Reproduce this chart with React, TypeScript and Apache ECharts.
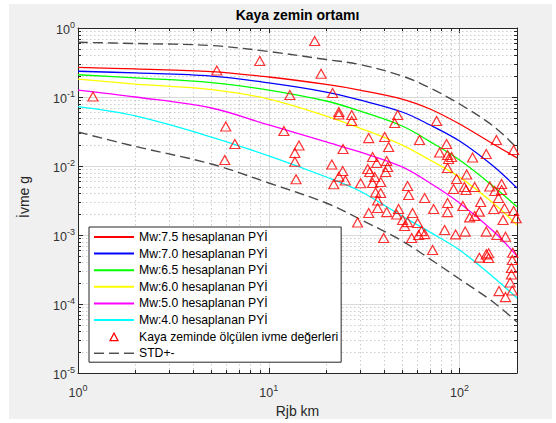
import React, { useEffect, useRef } from 'react';
import * as echarts from 'echarts';

// ---------- data ----------
const distances = [1, 2, 5, 10, 20, 30, 50, 70, 100, 150, 200];
const mw75 = [0.268, 0.255, 0.234, 0.195, 0.152, 0.126, 0.0935, 0.067, 0.0406, 0.0208, 0.0131];
const mw70 = [0.236, 0.223, 0.201, 0.16, 0.118, 0.0905, 0.0606, 0.0393, 0.023, 0.01, 0.0048];
const mw65 = [0.21, 0.189, 0.162, 0.126, 0.0875, 0.0627, 0.038, 0.0226, 0.0122, 0.0051, 0.00257];
const mw60 = [0.181, 0.154, 0.128, 0.0935, 0.053, 0.0355, 0.0201, 0.0122, 0.0069, 0.0029, 0.0014];
const mw50 = [0.126, 0.1, 0.0693, 0.0393, 0.0223, 0.016, 0.0097, 0.00567, 0.00291, 0.00114, 0.000496];
const mw40 = [0.0723, 0.0531, 0.0263, 0.014, 0.00693, 0.00434, 0.00188, 0.0011, 0.000606, 0.000246, 0.000122];
const stdUpper = [0.621, 0.596, 0.557, 0.456, 0.349, 0.296, 0.2016, 0.135, 0.0792, 0.038, 0.0182];
const stdLower = [0.0311, 0.0192, 0.0107, 0.00567, 0.00291, 0.0017, 0.00082, 0.000449, 0.00023, 0.000107, 0.0000548];

const obsDistance = [
  1.198, 5.34, 8.97, 5.95, 17.4, 18.8, 12.9, 21.6, 23.3, 23.3,
  27.2, 27.2, 47.4, 45.7, 75.8, 156, 192, 12.0, 33.4, 40.5,
  61.7, 42.5, 85.5, 78.6, 86.5, 90.8, 87.6, 86.5, 117, 138,
  109, 96.5, 106, 108, 93.0, 120, 144, 153, 166, 166,
  160, 129, 104, 86.5, 86.5, 73.1, 65.6, 54.1, 53.4, 47.9,
  56.7, 46.8, 50.3, 53.4, 51.5, 60.3, 63.2, 65.6, 61.0, 56.1,
  72.2, 40.0, 29.2, 33.4, 36.3, 38.6, 37.2, 37.2, 41.5, 35.0,
  36.8, 41.5, 42.0, 33.0, 33.8, 41.0, 35.9, 35.0, 38.6, 6.64,
  5.88, 14.4, 13.7, 13.7, 13.9, 21.4, 24.4, 23.3, 25.2, 21.9,
  30.3, 24.5, 83.5, 95.3, 107, 138, 157, 174, 127, 138,
  142, 142, 190, 189, 187, 187, 184, 189, 161, 174,
  113, 127, 151, 172, 198, 169, 192, 120,
];
const obsPga = [
  0.1017, 0.242, 0.332, 0.0374, 0.648, 0.2176, 0.1069, 0.1143, 0.0606, 0.0558,
  0.0548, 0.0449, 0.0548, 0.042, 0.0449, 0.0238, 0.01706, 0.0322, 0.0254, 0.0263,
  0.0238, 0.01886, 0.02084, 0.01569, 0.01443, 0.0135, 0.01263, 0.00935, 0.01328, 0.01492,
  0.00753, 0.00648, 0.00496, 0.00449, 0.00464, 0.00496, 0.00505, 0.00434, 0.00548, 0.00449,
  0.00344, 0.00301, 0.00263, 0.00291, 0.00215, 0.00238, 0.00344, 0.0038, 0.00513, 0.00238,
  0.00208, 0.00198, 0.00165, 0.00154, 0.00135, 0.00149, 0.00114, 0.00103, 0.001, 0.000905,
  0.000606, 0.000905, 0.00152, 0.00208, 0.00413, 0.00406, 0.00316, 0.00246, 0.00215, 0.0135,
  0.01105, 0.01182, 0.00967, 0.00905, 0.00818, 0.00818, 0.00693, 0.00567, 0.00586, 0.02084,
  0.01222, 0.01982, 0.01543, 0.01154, 0.00642, 0.01051, 0.00846, 0.007, 0.00616, 0.00543,
  0.00562, 0.01764, 0.00118, 0.00102, 0.00112, 0.00112, 0.001, 0.000945, 0.000469, 0.000525,
  0.000543, 0.000464, 0.000554, 0.000434, 0.000332, 0.000268, 0.000205, 0.000157, 0.000154, 0.000126,
  0.0018, 0.00218, 0.00238, 0.00244, 0.00175, 0.00165, 0.00223, 0.00189,
];

const seriesNames = [
  'Mw:7.5 hesaplanan PYİ',
  'Mw:7.0 hesaplanan PYİ',
  'Mw:6.5 hesaplanan PYİ',
  'Mw:6.0 hesaplanan PYİ',
  'Mw:5.0 hesaplanan PYİ',
  'Mw:4.0 hesaplanan PYİ',
];
const obsName = 'Kaya zeminde ölçülen ivme değerleri';
const stdName = 'STD+-';
const titleText = 'Kaya zemin ortamı';
const xLabelText = 'Rjb km';
const yLabelText = 'İvme g';

// minor grid positions (log axes)
const minorMantissas = [2, 3, 4, 5, 6, 7, 8, 9];
const xMinorDecades = [1, 10];
const yMinorDecades = [1e-5, 1e-4, 1e-3, 1e-2, 1e-1];

const FONT = '"Liberation Sans", Arial, Helvetica, sans-serif';
const AXIS = '#262626';
// a small triangle centred in the 40x8 legend icon box
const LEGEND_TRIANGLE = 'path://M0,0 M40,8 M16,8 L20,0.5 L24,8 Z';

function powLabel(v: number) {
  const l = Math.log10(v);
  const e = Math.round(l);
  if (Math.abs(l - e) > 1e-6) return '';
  return `{b|10}{s|${e}}`;
}

const rich = {
  b: { fontSize: 12.5, color: '#333', fontFamily: FONT, padding: [4, 0, 0, 0] },
  s: { fontSize: 9, color: '#333', fontFamily: FONT, padding: [0, 0, 6, 0] },
};

export default function App() {
  const ref = useRef<HTMLDivElement>(null);
  useEffect(() => {
    document.body.style.margin = '0';
    if (!ref.current) return;
    const chart = echarts.init(ref.current, undefined, { renderer: 'svg' });

    const colors = ['#ff0000', '#0000ff', '#00ff00', '#ffff00', '#ff00ff', '#00ffff'];
    const curves = [mw75, mw70, mw65, mw60, mw50, mw40];

    const minorData: number[][] = [];
    xMinorDecades.forEach((d) => minorMantissas.forEach((m) => minorData.push([m * d, 0.01, 0])));
    yMinorDecades.forEach((d) => minorData.push(...minorMantissas.map((m) => [10, m * d, 1])));

    const lineSeries = curves.map((c, i) => ({
      type: 'line',
      name: seriesNames[i],
      data: distances.map((d, k) => [d, c[k]]),
      symbol: 'none',
      showSymbol: false,
      smooth: 0.35,
      lineStyle: { color: colors[i], width: 1.3 },
      itemStyle: { color: colors[i] },
      silent: true,
      z: 3,
    }));

    const option: any = {
      animation: false,
      backgroundColor: '#f0f0f0',
      textStyle: { fontFamily: FONT },
      grid: {
        left: 69,
        top: 24,
        width: 439,
        height: 345,
        show: true,
        backgroundColor: '#ffffff',
        borderWidth: 0,
        containLabel: false,
        outerBoundsMode: 'none',
      },
      legend: {
        orient: 'vertical',
        left: 80,
        top: 223,
        itemWidth: 40,
        itemHeight: 8,
        itemGap: 2.6,
        padding: [3, 3, 2, 4],
        backgroundColor: '#ffffff',
        borderColor: AXIS,
        borderWidth: 1,
        borderRadius: 0,
        selectedMode: false,
        itemStyle: { opacity: 0 },
        textStyle: { fontSize: 12.2, color: '#000', fontFamily: FONT, lineHeight: 14 },
        data: [
          ...seriesNames.map((n) => ({ name: n })),
          { name: obsName, icon: LEGEND_TRIANGLE, itemStyle: { opacity: 1, color: 'transparent', borderColor: '#ff0000', borderWidth: 1.2 } },
          { name: stdName, lineStyle: { color: '#000', width: 1 } },
        ],
      },
      xAxis: [
        {
          type: 'log',
          logBase: 10,
          min: 1,
          max: 200,
          position: 'bottom',
          axisLine: { show: true, lineStyle: { color: AXIS, width: 1 } },
          axisTick: { show: true, inside: true, length: 5, lineStyle: { color: AXIS, width: 1 } },
          axisLabel: { show: true, formatter: powLabel, rich, margin: 9, showMinLabel: true, showMaxLabel: true },
          splitLine: { show: true, lineStyle: { color: '#dadada', width: 1 } },
          minorTick: { show: false },
        },
        {
          type: 'log',
          logBase: 10,
          min: 1,
          max: 200,
          position: 'top',
          axisLine: { show: true, lineStyle: { color: AXIS, width: 1 } },
          axisTick: { show: true, inside: true, length: 5, lineStyle: { color: AXIS, width: 1 } },
          axisLabel: { show: false },
          splitLine: { show: false },
        },
      ],
      yAxis: [
        {
          type: 'log',
          logBase: 10,
          min: 1e-5,
          max: 1,
          position: 'left',
          axisLine: { show: true, lineStyle: { color: AXIS, width: 1 } },
          axisTick: { show: true, inside: true, length: 5, lineStyle: { color: AXIS, width: 1 } },
          axisLabel: { show: true, formatter: powLabel, rich, margin: 3, showMinLabel: true, showMaxLabel: true },
          splitLine: { show: true, lineStyle: { color: '#dadada', width: 1 } },
        },
        {
          type: 'log',
          logBase: 10,
          min: 1e-5,
          max: 1,
          position: 'right',
          axisLine: { show: true, lineStyle: { color: AXIS, width: 1 } },
          axisTick: { show: true, inside: true, length: 5, lineStyle: { color: AXIS, width: 1 } },
          axisLabel: { show: false },
          splitLine: { show: false },
        },
      ],
      graphic: [
        {
          type: 'text',
          x: 288.5,
          y: 11,
          silent: true,
          style: { text: titleText, font: `bold 14px ${FONT}`, fill: '#000', textAlign: 'center', textVerticalAlign: 'middle' },
        },
        {
          type: 'text',
          x: 288.5,
          y: 406.5,
          silent: true,
          style: { text: xLabelText, font: `14px ${FONT}`, fill: '#262626', textAlign: 'center', textVerticalAlign: 'middle' },
        },
        {
          type: 'text',
          x: 15,
          y: 193,
          rotation: Math.PI / 2,
          silent: true,
          style: { text: yLabelText, font: `14px ${FONT}`, fill: '#262626', textAlign: 'center', textVerticalAlign: 'middle' },
        },
      ],
      series: [
        {
          type: 'custom',
          silent: true,
          z: 1,
          clip: false,
          data: minorData,
          renderItem: (params: any, api: any) => {
            const cs = params.coordSys;
            const kind = api.value(2);
            const children: any[] = [];
            if (kind === 0) {
              const x = Math.round(api.coord([api.value(0), api.value(1)])[0]) + 0.5;
              children.push({ type: 'line', shape: { x1: x, y1: cs.y, x2: x, y2: cs.y + cs.height }, style: { stroke: '#cccccc', lineWidth: 1, lineDash: [1.5, 2.5] } });
              children.push({ type: 'line', shape: { x1: x, y1: cs.y + cs.height, x2: x, y2: cs.y + cs.height - 3 }, style: { stroke: AXIS, lineWidth: 1 } });
              children.push({ type: 'line', shape: { x1: x, y1: cs.y, x2: x, y2: cs.y + 3 }, style: { stroke: AXIS, lineWidth: 1 } });
            } else {
              const y = Math.round(api.coord([api.value(0), api.value(1)])[1]) + 0.5;
              children.push({ type: 'line', shape: { x1: cs.x, y1: y, x2: cs.x + cs.width, y2: y }, style: { stroke: '#cccccc', lineWidth: 1, lineDash: [1.5, 2.5] } });
              children.push({ type: 'line', shape: { x1: cs.x, y1: y, x2: cs.x + 3, y2: y }, style: { stroke: AXIS, lineWidth: 1 } });
              children.push({ type: 'line', shape: { x1: cs.x + cs.width, y1: y, x2: cs.x + cs.width - 3, y2: y }, style: { stroke: AXIS, lineWidth: 1 } });
            }
            return { type: 'group', children };
          },
        },
        ...lineSeries,
        {
          type: 'scatter',
          name: obsName,
          data: obsDistance.map((d, k) => [d, obsPga[k]]),
          symbol: 'triangle',
          symbolSize: [10, 9],
          itemStyle: { color: 'transparent', borderColor: '#ff0000', borderWidth: 1.2 },
          silent: true,
          z: 4,
        },
        {
          type: 'line',
          name: stdName,
          data: distances.map((d, k) => [d, stdUpper[k]]),
          symbol: 'none',
          showSymbol: false,
          smooth: 0.35,
          lineStyle: { color: '#4a4a4a', width: 1.4, type: [10, 5] },
          itemStyle: { color: '#4a4a4a' },
          silent: true,
          z: 3,
        },
        {
          type: 'line',
          name: stdName,
          data: distances.map((d, k) => [d, stdLower[k]]),
          symbol: 'none',
          showSymbol: false,
          smooth: 0.35,
          lineStyle: { color: '#4a4a4a', width: 1.4, type: [10, 5] },
          itemStyle: { color: '#4a4a4a' },
          silent: true,
          z: 3,
        },
      ],
    };
    chart.setOption(option);
    return () => chart.dispose();
  }, []);

  return (
    <div style={{ position: 'relative', width: 556, height: 423, background: '#ffffff' }}>
      <div ref={ref} style={{ position: 'absolute', left: 9, top: 4, width: 543, height: 415 }} />
    </div>
  );
}
